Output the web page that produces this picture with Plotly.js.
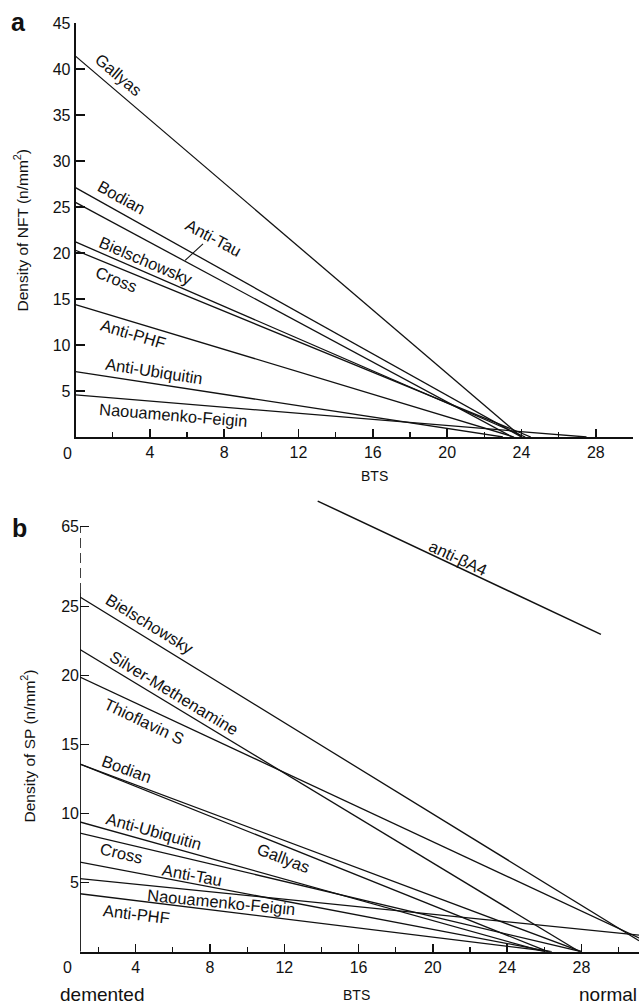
<!DOCTYPE html>
<html><head><meta charset="utf-8">
<script src="https://cdn.plot.ly/plotly-3.0.1.min.js"></script>
<style>html,body{margin:0;padding:0;background:#fff}#chart{width:639px;height:1004px}</style>
</head><body><div id="chart"></div>
<script>
// ---------- Panel a: density of NFT vs BTS (regression lines) ----------
const nftStains       = ['Gallyas','Bodian','Anti-Tau','Bielschowsky','Cross','Anti-PHF','Anti-Ubiquitin','Naouamenko-Feigin'];
const nftStartBTS     = [0, 0, 0, 0, 0, 0, 0, 0];
const nftStartDensity = [41.4, 27.1, 25.5, 21.2, 20.3, 14.4, 7.1, 4.57];
const nftEndBTS       = [24.0, 24.0, 23.5, 24.2, 24.5, 23.6, 23.0, 27.5];
const nftEndDensity   = [0, 0, 0, 0, 0, 0, 0, 0];

// ---------- Panel b: density of SP vs BTS ----------
const spStains        = ['Bielschowsky','Silver-Methenamine','Thioflavin S','Bodian','Gallyas','Anti-Ubiquitin','Cross','Anti-Tau','Naouamenko-Feigin','Anti-PHF'];
const spStartBTS      = [1, 1, 1, 1, 1, 1, 1, 1, 1, 1];
const spStartDensity  = [25.7, 21.9, 19.9, 13.6, 13.6, 9.4, 8.6, 6.5, 5.3, 4.2];
const spEndBTS        = [31.1, 27.9, 31.1, 28.0, 26.2, 26.0, 28.0, 26.3, 31.1, 26.4];
const spEndDensity    = [0.8, 0, 1.0, 0, 0, 0, 0, 0, 1.2, 0];
// anti-betaA4 drawn on the upper (broken, "65") part of the axis, in axis units
const betaA4Name      = 'anti-βA4';
const betaA4BTS       = [13.8, 29.05];
const betaA4Density   = [32.66, 23.0];

// tick labels
const xTickVals  = [4, 8, 12, 16, 20, 24, 28];
const nftYTicks  = [5, 10, 15, 20, 25, 30, 35, 40, 45];
const spYTicks   = [5, 10, 15, 20, 25, 30.8];
const spYLabels  = ['5', '10', '15', '20', '25', '65'];

// ---------- layout helpers ----------
const W = 639, H = 1004;
const fx = v => v / W, fy = v => 1 - v / H;
const FONT = 'Liberation Sans, Arial, Helvetica, sans-serif';
const INK = '#111';

const traces = [];
nftStains.forEach((n, i) => traces.push({
  type: 'scatter', mode: 'lines', name: n, xaxis: 'x', yaxis: 'y',
  x: [nftStartBTS[i], nftEndBTS[i]], y: [nftStartDensity[i], nftEndDensity[i]],
  line: {color: INK, width: 1.3}, hoverinfo: 'name'
}));
spStains.forEach((n, i) => traces.push({
  type: 'scatter', mode: 'lines', name: n, xaxis: 'x2', yaxis: 'y2',
  x: [spStartBTS[i], spEndBTS[i]], y: [spStartDensity[i], spEndDensity[i]],
  line: {color: INK, width: 1.3}, hoverinfo: 'name'
}));
traces.push({
  type: 'scatter', mode: 'lines', name: betaA4Name, xaxis: 'x2', yaxis: 'y2',
  x: betaA4BTS, y: betaA4Density, line: {color: INK, width: 1.5}, hoverinfo: 'name'
});

// label placement (centre in data units, rotation in degrees)
const nftLabelPos = {
  'Gallyas': [2.34, 39.35, 40], 'Bodian': [2.45, 26.1, 29], 'Anti-Tau': [7.45, 21.6, 28],
  'Bielschowsky': [3.82, 19.1, 23], 'Cross': [2.18, 17.2, 22], 'Anti-PHF': [3.12, 11.25, 16.7],
  'Anti-Ubiquitin': [4.2, 7.17, 8.8], 'Naouamenko-Feigin': [5.27, 2.39, 4.7]
};
const spLabelPos = {
  'Bielschowsky': [4.77, 23.75, 31.6], 'Silver-Methenamine': [6.09, 18.78, 31.2],
  'Thioflavin S': [4.42, 16.7, 25.3], 'Bodian': [3.53, 13.24, 20], 'Anti-Ubiquitin': [4.96, 8.78, 15.6],
  'Gallyas': [11.96, 6.79, 21], 'Cross': [3.21, 7.19, 13.3], 'Anti-Tau': [7.06, 5.59, 10.5],
  'Naouamenko-Feigin': [8.6, 3.57, 5.5], 'Anti-PHF': [4.02, 2.73, 7]
};
const labelFont = {family: FONT, size: 16.5, color: INK};
const ann = [];
nftStains.forEach(n => { const p = nftLabelPos[n];
  ann.push({xref: 'x', yref: 'y', x: p[0], y: p[1], text: n, textangle: p[2], showarrow: false, font: labelFont}); });
spStains.forEach(n => { const p = spLabelPos[n];
  ann.push({xref: 'x2', yref: 'y2', x: p[0], y: p[1], text: n, textangle: p[2], showarrow: false, font: labelFont}); });
ann.push({xref: 'x2', yref: 'y2', x: 21.37, y: 28.5, text: betaA4Name, textangle: 25.2, showarrow: false, font: labelFont});

// axis titles and panel text
const pt = (text, x, y, size, extra) => Object.assign({xref: 'paper', yref: 'paper', x: fx(x), y: fy(y),
  text, showarrow: false, xanchor: 'center', yanchor: 'middle', font: {family: FONT, size, color: INK}}, extra || {});
ann.push(pt('Density of NFT (n/mm<sup>2</sup>)', 21.5, 230, 15.5, {textangle: -90}));
ann.push(pt('Density of SP (n/mm<sup>2</sup>)', 28.5, 746, 15.5, {textangle: -90}));
ann.push(pt('BTS', 374, 476, 14));
ann.push(pt('BTS', 356, 995, 14));
ann.push(pt('demented', 102.5, 994, 19));
ann.push(pt('normal', 607.5, 994.5, 19));
ann.push(pt('<b>a</b>', 18.5, 22, 25));
ann.push(pt('<b>b</b>', 19.7, 528, 25));
ann.push(pt('0', 67, 453, 16));
ann.push(pt('0', 67.5, 967, 16));

const tickFont = {family: FONT, size: 16, color: INK};
const xCommon = {
  showline: true, linecolor: INK, linewidth: 1.8, showgrid: false, zeroline: false,
  ticks: 'inside', ticklen: 8, tickwidth: 1.4, tickcolor: INK, tickfont: tickFont,
  tickmode: 'array', tickvals: xTickVals, ticktext: xTickVals.map(String),
  minor: {ticks: 'inside', ticklen: 5, tickwidth: 1.2, tickcolor: INK, tickmode: 'linear', tick0: 0, dtick: 2, showgrid: false},
  fixedrange: true
};
const yCommon = {
  showgrid: false, zeroline: false, ticks: 'inside', ticklen: 9, tickwidth: 1.4, tickcolor: INK,
  tickfont: tickFont, tickmode: 'array', fixedrange: true
};

const layout = {
  width: W, height: H, margin: {l: 0, r: 0, t: 0, b: 0},
  paper_bgcolor: '#fff', plot_bgcolor: 'rgba(0,0,0,0)', showlegend: false,
  font: {family: FONT, color: INK},
  xaxis: Object.assign({}, xCommon, {domain: [fx(75.5), fx(633)], range: [0, 30], anchor: 'y'}),
  yaxis: Object.assign({}, yCommon, {domain: [fy(437), fy(23)], range: [0, 45], anchor: 'x',
    tickvals: nftYTicks, ticktext: nftYTicks.map(String), showline: true, linecolor: INK, linewidth: 1.8}),
  xaxis2: Object.assign({}, xCommon, {domain: [fx(80), 1], range: [1, 31.1], anchor: 'y2'}),
  yaxis2: Object.assign({}, yCommon, {domain: [fy(951.7), fy(495)], range: [0, 33.1], anchor: 'x2',
    tickvals: spYTicks, ticktext: spYLabels, showline: false}),
  shapes: [
    // broken y axis of panel b: solid lower part, dashed upper part up to the "65" tick
    {type: 'line', xref: 'x2', yref: 'y2', x0: 1, x1: 1, y0: 0, y1: 26, line: {color: INK, width: 1.8}, layer: 'above'},
    {type: 'line', xref: 'x2', yref: 'y2', x0: 1, x1: 1, y0: 26, y1: 30.8, line: {color: INK, width: 1.6, dash: '10px,5px'}, layer: 'above'},
    // Anti-Tau leader line in panel a
    {type: 'line', xref: 'x', yref: 'y', x0: 6.86, y0: 21.0, x1: 5.9, y1: 19.2, line: {color: INK, width: 1.1}, layer: 'above'}
  ],
  annotations: ann
};

Plotly.newPlot('chart', traces, layout, {displayModeBar: false, staticPlot: true});
</script></body></html>
